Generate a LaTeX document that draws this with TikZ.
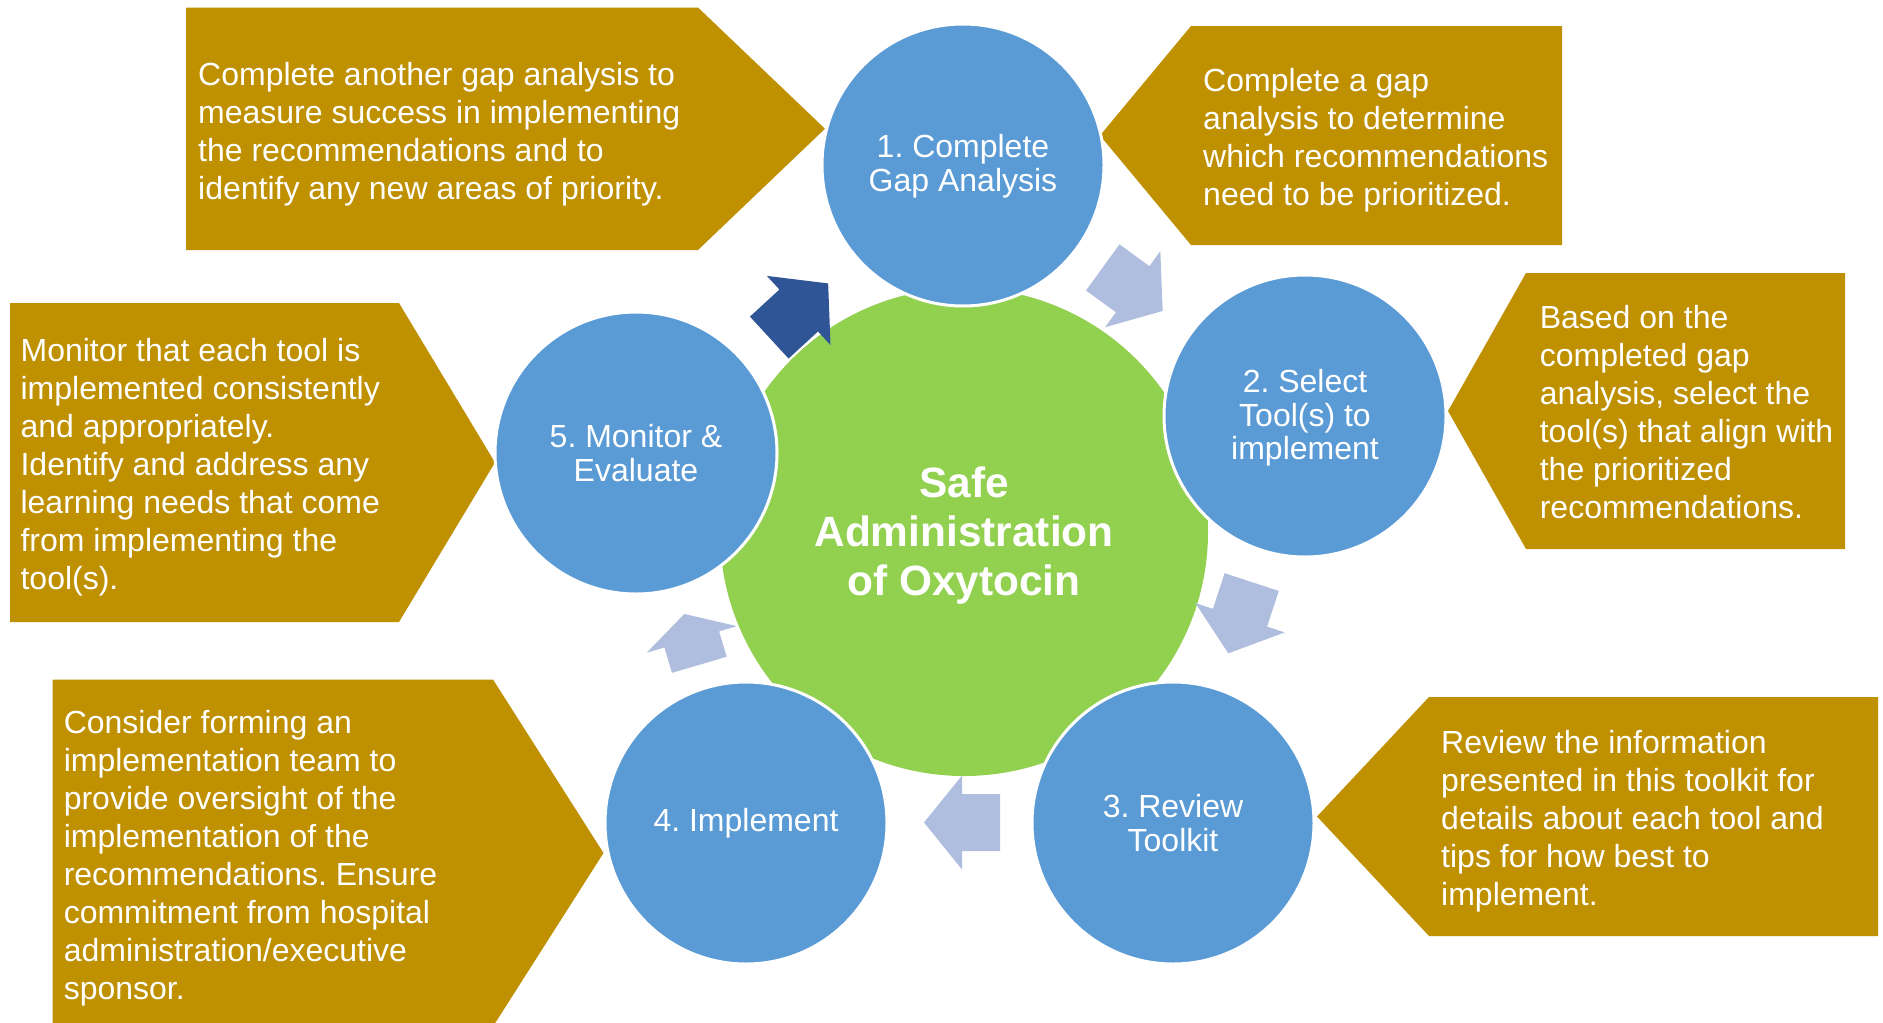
\documentclass[tikz,border=0pt]{standalone}
\usepackage{fontspec}
\setmainfont{Liberation Sans}
\frenchspacing
\definecolor{gold}{HTML}{BF9000}
\definecolor{stageblue}{HTML}{5B9BD5}
\definecolor{hubgreen}{HTML}{92D050}
\definecolor{softarrow}{HTML}{AFBDDF}
\definecolor{deeparrow}{HTML}{2F5597}

% block arrow: centre x, centre y, direction (deg), total length, colour
\newcommand\cyclearrow[5]{%
  \fill[#5, shift={(#1,#2)}, rotate=#3]
    (-#4/2,-28.5) -- (0,-28.5) -- (0,-47) -- (#4/2,0)
    -- (0,47) -- (0,28.5) -- (-#4/2,28.5) -- cycle;}

\begin{document}
\begin{tikzpicture}[x=1pt,y=-1pt,
  callout/.style={fill=gold},
  note/.style={text=white, font=\fontsize{32}{38}\selectfont, align=left,
    inner sep=0pt, anchor=west},
  stage/.style={circle, fill=stageblue, draw=white, line width=3pt,
    minimum size=282pt, inner sep=0pt, text=white, align=center,
    font=\fontsize{32}{33.5}\selectfont},
  hub/.style={circle, fill=hubgreen, minimum size=488pt, inner sep=0pt,
    text=white, align=center, font=\fontsize{42.4}{49}\selectfont\bfseries}]

\fill[white] (0,0) rectangle (1883,1023);
\useasboundingbox (0,0) rectangle (1883,1023);

% gold callouts
\fill[callout] (186,7.5) -- (698,7.5) -- (825,128.75) -- (698,250) -- (186,250) -- cycle;
\fill[callout] (1562,26) -- (1191,26) -- (1100,135.5) -- (1191,245) -- (1562,245) -- cycle;
\fill[callout] (1845,273) -- (1526,273) -- (1448,411) -- (1526,549) -- (1845,549) -- cycle;
\fill[callout] (10,303) -- (399,303) -- (495,462.5) -- (399,622) -- (10,622) -- cycle;
\fill[callout] (52.6,679.5) -- (493,679.5) -- (603.5,853) -- (493,1026.5) -- (52.6,1026.5) -- cycle;
\fill[callout] (1878,697) -- (1429,697) -- (1317,816.5) -- (1429,936) -- (1878,936) -- cycle;

\node[note] (tA) at (198,134) {Complete another gap analysis to\\measure success in implementing\\the recommendations and to\\identify any new areas of priority.};
\node[note] (tB) at (1203,140.5) {Complete a gap\\analysis to determine\\which recommendations\\need to be prioritized.};
\node[note] (tC) at (1539.6,412.5) {Based on the\\completed gap\\analysis, select the\\tool(s) that align with\\the prioritized\\recommendations.};
\node[note] (tD) at (20.4,467.5) {Monitor that each tool is\\implemented consistently\\and appropriately.\\Identify and address any\\learning needs that come\\from implementing the\\tool(s).};
\node[note] (tE) at (63.6,858) {Consider forming an\\implementation team to\\provide oversight of the\\implementation of the\\recommendations. Ensure\\commitment from hospital\\administration/executive\\sponsor.};
\node[note] (tF) at (1441,821.5) {Review the information\\presented in this toolkit for\\details about each tool and\\tips for how best to\\implement.};

% central hub and the five stages
\node[hub] (hub) at (964,532) {};
\node[align=center, text=white, inner sep=0pt,
  font=\fontsize{42.4}{49}\selectfont\bfseries] (hubtext) at (964,535.5)
  {Safe\\Administration\\of Oxytocin};
\node[stage] (s1) at (963,165) {};
\node[stage] (s2) at (1305,416) {};
\node[stage] (s3) at (1173,823) {};
\node[stage] (s4) at (746,823) {};
\node[stage] (s5) at (636,453) {};
\begin{scope}[every node/.style={text=white, align=center, inner sep=0pt,
    font=\fontsize{32}{33.5}\selectfont}]
  \node (l1) at ([yshift=-1pt]s1.center) {1. Complete\\Gap Analysis};
  \node (l2) at ([yshift=-2pt]s2.center) {2. Select\\Tool(s) to\\implement};
  \node (l3) at (s3.center) {3. Review\\Toolkit};
  \node (l4) at (s4.center) {4. Implement};
  \node (l5) at (s5.center) {5. Monitor \&\\Evaluate};
\end{scope}

% arrows between stages
\cyclearrow{1132.7}{289.2}{-36}{74}{softarrow}
\cyclearrow{1240}{617.7}{-108.2}{75}{softarrow}
\cyclearrow{962}{822.5}{180}{76}{softarrow}
\cyclearrow{691.8}{639.4}{106.4}{53}{softarrow}
\cyclearrow{798.7}{310.5}{42.6}{80}{deeparrow}
\end{tikzpicture}
\end{document}
